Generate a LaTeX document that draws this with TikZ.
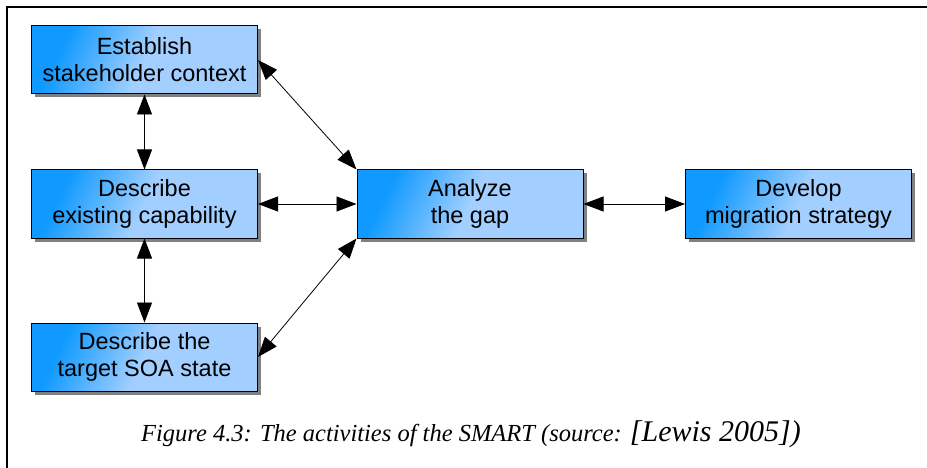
\documentclass[tikz,border=0pt]{standalone}
\usepackage{fontspec}
\setmainfont{Liberation Serif}
\setsansfont{Liberation Sans}
\usetikzlibrary{arrows.meta,shadows}

\definecolor{bdark}{RGB}{16,154,255}
\definecolor{blight}{RGB}{162,207,255}
\definecolor{shadowgray}{RGB}{128,128,128}
% blue-to-light fill of the activity boxes (25bp = left edge, 75bp = right edge)
\pgfdeclarehorizontalshading{activityshade}{100bp}{color(0bp)=(bdark); color(27bp)=(bdark); color(50bp)=(blight); color(100bp)=(blight)}

\begin{document}
\begin{tikzpicture}[x=1pt,y=-1pt,
  activity/.style={draw=black, line width=1pt, shading=activityshade, shading angle=-25,
    minimum width=226pt, minimum height=68pt, inner sep=0pt, align=center,
    font=\sffamily\fontsize{23.5}{27}\selectfont,
    drop shadow={shadow xshift=3.5pt, shadow yshift=-3.5pt, fill=shadowgray, opacity=1}},
  link/.style={line width=0.8pt,
    {Triangle[length=20pt,width=15pt]}-{Triangle[length=20pt,width=15pt]}}]

\useasboundingbox (0,0) rectangle (927,468);

% open frame: left and top edges only
\draw[line width=2.5pt] (7,468) -- (7,7) -- (927,7);

\node[activity] (ctx) at (144.5,60)  {Establish\\stakeholder context};
\node[activity] (cap) at (144.5,204) {Describe\\existing capability};
\node[activity] (soa) at (144.5,357) {Describe the\\target SOA state};
\node[activity] (gap) at (470,204)   {Analyze\\the gap};
\node[activity] (mig) at (798.5,204) {Develop\\migration strategy};

\draw[link] (ctx) -- (cap);
\draw[link] (cap) -- (soa);
\draw[link] (cap) -- (gap);
\draw[link] (gap) -- (mig);
\draw[link] (ctx.east) -- (gap.north west);
\draw[link] (soa.east) -- (gap.south west);

\node[anchor=base, inner sep=0pt] (caption) at (471,441)
  {\fontsize{24.5}{28}\selectfont\itshape Figure 4.3: The activities of the SMART (source: {\fontsize{30}{33}\selectfont[Lewis 2005])}};
\end{tikzpicture}
\end{document}
